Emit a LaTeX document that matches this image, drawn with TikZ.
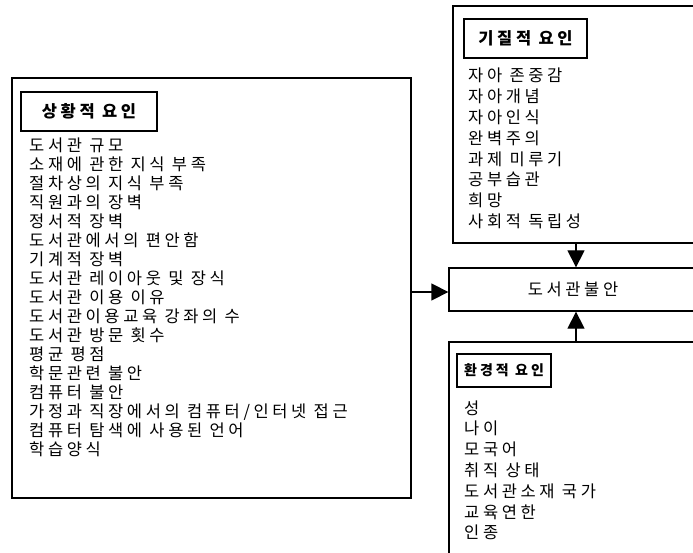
\documentclass[tikz,border=0pt]{standalone}
\usepackage{fontspec}
\newfontfamily\kr{Noto Sans CJK KR}[LetterSpace=22]
\usetikzlibrary{arrows.meta}
\begin{document}
\begin{tikzpicture}[x=1pt,y=-1pt,
  box/.style={draw, line width=1.3pt, rectangle, inner sep=0pt},
  item/.style={anchor=base west, inner sep=0pt, font=\kr\fontsize{16.5}{16.5}\selectfont},
  ttl/.style={box, font=\kr\bfseries\fontsize{16.5}{16.5}\selectfont},
  arr/.style={line width=1.3pt, -{Triangle[length=17pt,width=17pt]}}]
\useasboundingbox (0,0) rectangle (693,553);
\clip (0,0) rectangle (693,553);
% boxes
\node[box, minimum width=399pt, minimum height=420pt] (sit) at (211.5,288) {};
\node[ttl, minimum width=136pt, minimum height=39pt] (sitT) at (89,111.5) {상황적 요인};
\node[box, minimum width=257pt, minimum height=237pt] (temp) at (581.5,124.5) {};
\node[ttl, minimum width=123pt, minimum height=39pt] (tempT) at (525.5,38.5) {기질적 요인};
\node[box, minimum width=254pt, minimum height=43pt] (anx) at (576,289.5) {};
\node[item, anchor=center] (anxT) at (573,289.5) {도서관불안};
\node[box, minimum width=261pt, minimum height=240pt] (env) at (579.5,462) {};
\node[ttl, minimum width=94pt, minimum height=33pt, font=\kr\bfseries\fontsize{14}{14}\selectfont] (envT) at (504,370.5) {환경적 요인};
% items
\foreach \t [count=\i from 0] in {도서관 규모, 소재에 관한 지식 부족, 절차상의 지식 부족, 직원과의 장벽, 정서적 장벽, 도서관에서의 편안함, 기계적 장벽, 도서관 레이아웃 및 장식, 도서관 이용 이유, 도서관이용교육 강좌의 수, 도서관 방문 횟수, 평균 평점, 학문관련 불안, 컴퓨터 불안, 가정과 직장에서의 컴퓨터/인터넷 접근, 컴퓨터 탐색에 사용된 언어, 학습양식}
  \node[item] (s\i) at (29,{152+18.95*\i}) {\t};
\foreach \t [count=\i from 0] in {자아 존중감, 자아개념, 자아인식, 완벽주의, 과제 미루기, 공부습관, 희망, 사회적 독립성}
  \node[item] (t\i) at (468,{82+20.8*\i}) {\t};
\foreach \t [count=\i from 0] in {성, 나이, 모국어, 취직 상태, 도서관소재 국가, 교육연한, 인종}
  \node[item] (e\i) at (464,{414+20.8*\i}) {\t};
% arrows
\draw[arr] (anx.west -| sit.east) ++(0,2.5) -- ([yshift=-2.5pt]anx.west);
\draw[arr] (temp.south -| anx.north) -- (anx.north);
\draw[arr] (env.north -| anx.south) -- (anx.south);
\end{tikzpicture}
\end{document}
